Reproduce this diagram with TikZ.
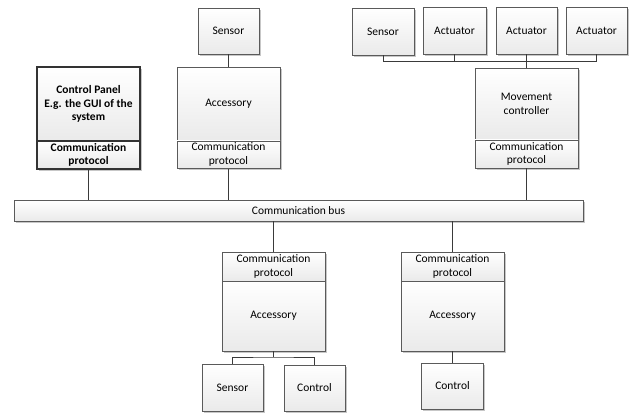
\documentclass[tikz,border=0pt]{standalone}
\usepackage{fontspec}
\setmainfont{Carlito}
\usetikzlibrary{shadows}
\definecolor{edge}{HTML}{5A5A5A}
\definecolor{wire}{HTML}{3A3A3A}
\definecolor{fillbot}{HTML}{EAEAEA}
\tikzset{
  box/.style={draw=edge, line width=0.9pt, top color=white, bottom color=fillbot,
    inner sep=1pt, align=center, font=\fontsize{11.5}{13.7}\selectfont,
    drop shadow={shadow xshift=1.6pt, shadow yshift=-1.6pt, fill=black!22, opacity=1}},
  boldbox/.style={box, draw=black!80, line width=2pt, font=\fontsize{11.5}{13.7}\selectfont\bfseries},
  wirestyle/.style={draw=wire, line width=1pt}
}
\begin{document}
\begin{tikzpicture}[x=1pt, y=-1pt]
\useasboundingbox (0,0) rectangle (629,414);
% top-left group
\node[box, minimum width=61pt, minimum height=46pt] (s1) at (228.5,31) {Sensor};
\node[box, minimum width=103pt, minimum height=74pt] (acc1) at (228.5,104) {Accessory};
\node[box, minimum width=103pt, minimum height=27.5pt] (acc1p) at (228.5,154.75) {Communication\\protocol};
\node[boldbox, minimum width=103pt, minimum height=74pt] (cp) at (88.5,104) {Control Panel\\E.g. the GUI of the\\system};
\node[boldbox, minimum width=103pt, minimum height=28pt] (cpp) at (88.5,155) {Communication\\protocol};
% top-right group
\node[box, minimum width=62pt, minimum height=47pt] (s2) at (383,31.5) {Sensor};
\node[box, minimum width=63pt, minimum height=47pt] (a1) at (454.5,30.5) {Actuator};
\node[box, minimum width=61pt, minimum height=47pt] (a2) at (526.5,30.5) {Actuator};
\node[box, minimum width=61pt, minimum height=47pt] (a3) at (596.5,30.5) {Actuator};
\node[box, minimum width=103pt, minimum height=72pt] (mc) at (526.5,104) {Movement\\controller};
\node[box, minimum width=103pt, minimum height=28pt] (mcp) at (526.5,154) {Communication\\protocol};
% bus
\node[box, minimum width=569pt, minimum height=21pt] (bus) at (298.5,210.5) {Communication bus};
% lower-left group
\node[box, minimum width=103pt, minimum height=29pt] (lp) at (273.5,266.5) {Communication\\protocol};
\node[box, minimum width=103pt, minimum height=70pt] (la) at (273.5,316) {Accessory};
\node[box, minimum width=61pt, minimum height=47pt] (ls) at (232.5,387.5) {Sensor};
\node[box, minimum width=61pt, minimum height=46pt] (lc) at (314.5,388) {Control};
% lower-right group
\node[box, minimum width=103pt, minimum height=29pt] (rp) at (452.5,266.5) {Communication\\protocol};
\node[box, minimum width=103pt, minimum height=70pt] (ra) at (452.5,316) {Accessory};
\node[box, minimum width=62pt, minimum height=46pt] (rc) at (452.5,386) {Control};
% connectors
\coordinate (tj) at (526.5,61.5);
\coordinate (lj) at (273.5,357);
\draw[wirestyle] (s1.south) -- (acc1.north);
\draw[wirestyle] (s2.south) |- (tj) -| (a3.south);
\draw[wirestyle] (a1.south) -- (a1.south |- tj);
\draw[wirestyle] (a2.south) -- (mc.north);
\draw[wirestyle] (cpp.south) -- (cpp.south |- bus.north);
\draw[wirestyle] (acc1p.south) -- (acc1p.south |- bus.north);
\draw[wirestyle] (mcp.south) -- (mcp.south |- bus.north);
\draw[wirestyle] (lp.north |- bus.south) -- (lp.north);
\draw[wirestyle] (rp.north |- bus.south) -- (rp.north);
\draw[wirestyle] (la.south) -- (lj);
\draw[wirestyle] (ls.north) |- (lj) -| (lc.north);
\draw[wirestyle] (ra.south) -- (rc.north);
\end{tikzpicture}
\end{document}
